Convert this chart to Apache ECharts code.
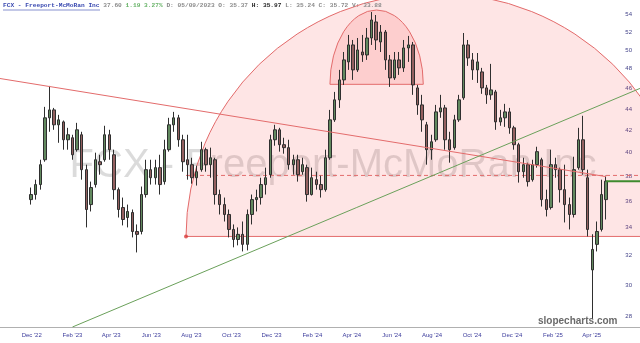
<!DOCTYPE html>
<html><head><meta charset="utf-8">
<script src="https://cdn.jsdelivr.net/npm/echarts@6/dist/echarts.min.js"></script>
<style>html,body{margin:0;padding:0;background:#fff}#c{width:640px;height:343px}</style>
</head><body><div id="c"></div>
<script>
// ---- data ----
const headerName = 'FCX - Freeport-McMoRan Inc';
const headerQuote = ['37.60', '1.19', '3.27%'];
const headerBar = ['05/09/2023', '35.37', '35.97', '35.24', '35.72', '33.88'];
const watermark = 'FCX - Freeport-McMoRan Inc';
const brand = 'slopecharts.com';

const dates = ['2022-11-30','2022-12-07','2022-12-14','2022-12-21','2022-12-28',
'2023-01-04','2023-01-11','2023-01-18','2023-01-25','2023-02-01','2023-02-08','2023-02-15','2023-02-22','2023-03-01','2023-03-08','2023-03-15','2023-03-22','2023-03-29','2023-04-05','2023-04-12','2023-04-19','2023-04-26','2023-05-03','2023-05-10','2023-05-17','2023-05-24','2023-05-31','2023-06-07','2023-06-14','2023-06-21','2023-06-28','2023-07-05','2023-07-12','2023-07-19','2023-07-26','2023-08-02','2023-08-09','2023-08-16','2023-08-23','2023-08-30','2023-09-06','2023-09-13','2023-09-20','2023-09-27','2023-10-04','2023-10-11','2023-10-18','2023-10-25','2023-11-01','2023-11-08','2023-11-15','2023-11-22','2023-11-29','2023-12-06','2023-12-13','2023-12-20','2023-12-27',
'2024-01-03','2024-01-10','2024-01-17','2024-01-24','2024-01-31','2024-02-07','2024-02-14','2024-02-21','2024-02-28','2024-03-06','2024-03-13','2024-03-20','2024-03-27','2024-04-03','2024-04-10','2024-04-17','2024-04-24','2024-05-01','2024-05-08','2024-05-15','2024-05-22','2024-05-29','2024-06-05','2024-06-12','2024-06-19','2024-06-26','2024-07-03','2024-07-10','2024-07-17','2024-07-24','2024-07-31','2024-08-07','2024-08-14','2024-08-21','2024-08-28','2024-09-04','2024-09-11','2024-09-18','2024-09-25','2024-10-02','2024-10-09','2024-10-16','2024-10-23','2024-10-30','2024-11-06','2024-11-13','2024-11-20','2024-11-27','2024-12-04','2024-12-11','2024-12-18','2024-12-25',
'2025-01-01','2025-01-08','2025-01-15','2025-01-22','2025-01-29','2025-02-05','2025-02-12','2025-02-19','2025-02-26','2025-03-05','2025-03-12','2025-03-19','2025-03-26','2025-04-02','2025-04-09','2025-04-16','2025-04-23'];

// [open, close, low, high]
const ohlc = [
[36.12,36.52,35.73,37.08],[36.52,37.32,36.12,37.72],[37.32,38.97,36.91,39.39],[39.39,43.15,39.22,44.19],[43.15,43.90,41.86,46.25],
[43.90,42.50,42.04,44.09],[42.50,42.96,40.87,43.43],[42.77,41.14,40.26,42.90],[41.14,41.59,40.26,42.22],[41.32,39.82,39.39,41.59],
[40.26,42.04,40.09,42.68],[41.59,38.55,37.72,41.86],[38.55,35.35,34.00,38.97],[35.73,37.08,35.20,37.56],[37.32,39.39,37.08,40.00],
[39.22,38.97,38.13,39.82],[39.39,41.59,39.22,42.41],[41.59,40.26,39.39,42.04],[39.82,36.91,36.12,40.26],[36.91,35.35,34.74,37.08],
[35.50,34.59,34.15,36.28],[34.74,35.20,34.00,35.73],[35.12,33.70,33.27,35.35],[33.70,33.49,32.20,34.22],[33.70,36.52,33.49,37.16],
[36.52,38.55,36.28,39.39],[38.55,37.88,37.32,39.39],[37.88,38.72,37.32,39.39],[38.72,37.32,36.52,39.82],[37.56,40.26,37.32,41.14],
[40.26,42.50,40.09,43.15],[42.50,43.15,41.86,43.71],[43.15,41.14,40.52,43.43],[41.14,39.22,38.38,41.59],[39.39,38.97,37.72,41.59],
[38.97,37.88,37.39,39.56],[37.88,38.38,37.24,38.88],[38.55,40.26,38.38,40.96],[40.26,38.97,38.38,40.44],[38.97,39.56,37.88,40.44],
[39.39,36.52,35.73,39.56],[36.52,35.73,34.97,36.91],[35.73,34.97,34.44,36.28],[34.97,33.85,33.27,35.35],[33.85,33.12,32.56,34.22],
[33.12,33.49,32.70,34.00],[33.49,32.77,32.27,34.44],[32.77,34.97,32.34,35.35],[34.97,36.12,34.22,36.52],[36.12,36.28,35.20,36.91],
[36.28,37.32,35.73,37.88],[37.32,37.88,36.52,38.72],[38.13,41.14,37.88,41.59],[41.14,42.04,40.61,42.50],[42.04,40.70,40.09,42.22],
[40.70,40.44,39.91,41.32],[40.44,38.97,38.55,41.14],[38.97,39.39,38.13,39.82],[39.39,38.13,37.56,39.82],[38.38,38.97,38.13,39.56],
[38.72,36.52,35.96,38.97],[36.52,37.88,36.44,38.72],[37.72,37.32,36.91,38.38],[37.32,36.91,36.28,38.05],[36.91,39.56,36.75,40.26],
[39.56,42.96,39.39,43.90],[42.96,44.87,42.77,45.65],[44.87,46.86,44.09,47.89],[46.86,48.94,46.35,49.79],[48.73,50.56,47.89,51.67],
[50.56,47.89,46.86,51.11],[47.89,50.01,47.68,51.33],[49.79,49.47,48.73,51.67],[49.47,51.33,48.94,52.46],[51.33,53.38,50.56,54.31],
[53.15,51.11,50.01,53.96],[50.89,52.00,49.79,52.80],[52.00,48.94,47.89,52.23],[48.94,47.06,46.15,49.47],[47.06,48.94,46.86,49.79],
[48.94,48.10,47.37,49.79],[48.10,50.23,47.68,51.11],[50.23,50.56,48.73,51.56],[50.56,46.35,45.36,50.89],[46.05,44.38,43.43,46.35],
[44.38,42.96,41.86,45.36],[42.50,40.26,38.97,42.77],[40.26,40.96,39.39,41.59],[41.14,43.71,40.96,44.38],[43.71,44.09,43.15,45.36],
[44.09,41.14,40.26,44.38],[41.14,40.26,39.14,41.86],[40.44,42.96,40.26,43.43],[42.96,44.87,42.77,45.36],[45.07,50.56,44.87,51.89],
[50.56,49.15,48.31,51.11],[48.94,47.89,46.86,49.68],[47.89,48.73,46.55,49.68],[47.68,46.05,45.46,48.10],[46.05,45.36,44.48,46.35],
[45.36,45.85,44.87,48.52],[45.65,42.77,42.04,45.85],[42.77,43.15,42.41,43.90],[43.15,43.71,42.31,44.48],[43.71,42.22,41.68,44.09],
[42.22,40.70,40.26,42.41],[40.70,38.38,37.48,40.87],[38.38,38.97,37.88,39.56],[38.97,37.56,37.16,39.14],[37.72,38.97,37.56,39.39],
[38.97,40.09,38.72,40.52],[39.39,36.12,35.58,39.56],[36.12,35.35,34.82,36.91],[35.50,38.97,35.35,40.26],[38.97,38.55,37.88,39.56],
[38.55,36.91,35.89,38.72],[36.91,35.73,34.37,38.97],[35.73,34.97,33.85,36.28],[34.97,38.55,34.74,39.65],[38.72,41.14,38.55,42.22],
[41.14,38.55,38.13,43.34],[37.88,33.85,33.34,38.55],[31.00,32.41,27.86,33.50],[32.77,33.70,32.27,34.44],[33.85,36.52,33.70,37.72],
[36.12,37.60,34.59,38.05]];

const yTicks = [28,30,32,34,36,38,40,42,44,46,48,50,52,54];
const xTicks = ['2022-12-01','2023-02-01','2023-04-01','2023-06-01','2023-08-01','2023-10-01','2023-12-01','2024-02-01','2024-04-01','2024-06-01','2024-08-01','2024-10-01','2024-12-01','2025-02-01','2025-04-01'];
const monthNames = ['Jan','Feb','Mar','Apr','May','Jun','Jul','Aug','Sep','Oct','Nov','Dec'];

const xRange = ['2022-10-13 18:00:00', '2025-06-13 12:00:00'];
const yRange = [27.38, 55.75];

// drawn annotations (in date / price)
const redTrend = [['2022-10-13 18:00:00', 47.0], ['2025-04-23', 37.97]];
const greenTrend = [['2023-02-01', 27.38], ['2025-06-13 12:00:00', 46.0]];
const dashedLevel = [['2023-07-23 18:00:00', 38.07], ['2025-06-13 12:00:00', 38.07]];
const lastPrice = [['2025-04-23', 37.60], ['2025-06-13 12:00:00', 37.60]];
// [left date, right date, base price, apex price]
const domes = [['2023-07-23 18:00:00', '2025-08-22 12:00:00', 33.34, 56.6],
               ['2024-02-27 18:00:00', '2024-07-18 18:00:00', 46.41, 54.55]];
const domeAnchor = [['2023-07-23 18:00:00', 33.34]];

// ---- chart ----
const ts = s => echarts.time.parse(s).getTime();
const chart = echarts.init(document.getElementById('c'), null, {renderer: 'canvas'});
const candleData = dates.map((d, i) => [ts(d)].concat(ohlc[i]));
const domeData = domes.map(d => [ts(d[0]), ts(d[1]), d[2], d[3]]);

chart.setOption({
  animation: false,
  backgroundColor: '#ffffff',
  title: {
    left: 3, top: 2, padding: 0,
    text: '{n|' + headerName + '} {p|' + headerQuote[0] + '} {g|' + headerQuote[1] + ' ' + headerQuote[2] + '} {p|D: ' + headerBar[0] + ' O: ' + headerBar[1] + '} {h|H: ' + headerBar[2] + '} {p|L: ' + headerBar[3] + ' C: ' + headerBar[4] + ' V: ' + headerBar[5] + '}',
    textStyle: {
      fontFamily: 'Liberation Mono', fontSize: 6.2,
      rich: {
        n: {color: '#3848b0', fontFamily: 'Liberation Mono', fontSize: 6.2},
        p: {color: '#8a8a8a', fontFamily: 'Liberation Mono', fontSize: 6.2},
        g: {color: '#66b266', fontFamily: 'Liberation Mono', fontSize: 6.2},
        h: {color: '#222222', fontFamily: 'Liberation Mono', fontSize: 6.2, fontWeight: 'bold'}
      }
    }
  },
  graphic: [
    {type: 'text', z: -10, x: 333, y: 166, style: {text: watermark, font: '40px "Liberation Sans"', fill: 'rgba(0,0,0,0.14)', align: 'center', verticalAlign: 'middle'}},
    {type: 'text', z: 100, left: 538, top: 316, style: {text: brand, font: 'bold 10px "Liberation Sans"', fill: '#6a6a6a'}},
    {type: 'line', z: 100, shape: {x1: 3, y1: 10, x2: 100, y2: 10}, style: {stroke: '#3848b0', lineWidth: 0.6}}
  ],
  grid: {left: 0, right: 0, top: 0, bottom: 16, containLabel: false, outerBoundsMode: 'none'},
  xAxis: {
    type: 'value', min: ts(xRange[0]), max: ts(xRange[1]),
    splitLine: {show: false},
    axisLine: {lineStyle: {color: '#b0b0b0'}},
    axisTick: {show: false},
    axisLabel: {
      customValues: xTicks.map(ts), fontSize: 6, color: '#3c3c9c', margin: 5,
      fontFamily: 'Liberation Sans',
      formatter: v => { const d = new Date(v); return monthNames[d.getMonth()] + " '" + String(d.getFullYear()).slice(2); }
    }
  },
  yAxis: {
    type: 'log', position: 'right', min: yRange[0], max: yRange[1],
    splitLine: {show: false}, axisLine: {show: false}, axisTick: {show: false},
    axisLabel: {inside: true, customValues: yTicks, fontSize: 6, color: '#44448a', margin: 8,
      fontFamily: 'Liberation Sans', formatter: v => String(Math.round(v))}
  },
  series: [
    {
      type: 'custom', z: 1, clip: false, silent: true,
      data: domeData,
      encode: {x: [0, 1], y: [2, 3]},
      renderItem: (params, api) => {
        const l = api.coord([api.value(0), api.value(2)]);
        const r = api.coord([api.value(1), api.value(2)]);
        const t = api.coord([api.value(0), api.value(3)]);
        const a = (r[0] - l[0]) / 2, b = l[1] - t[1];
        return {
          type: 'path',
          shape: {pathData: 'M' + l[0] + ' ' + l[1] + ' A' + a + ' ' + b + ' 0 0 1 ' + r[0] + ' ' + r[1] + ' Z'},
          style: {fill: 'rgba(245,70,70,0.14)', stroke: '#e36b6b', lineWidth: 1}
        };
      }
    },
    {type: 'line', z: 3, data: dashedLevel.map(p => [ts(p[0]), p[1]]), showSymbol: false, silent: true,
      lineStyle: {color: '#e36b6b', width: 1, type: [4, 3]}},
    {type: 'scatter', z: 3, data: domeAnchor.map(p => [ts(p[0]), p[1]]), symbolSize: 4, silent: true,
      itemStyle: {color: '#d83a3a'}},
    {
      type: 'candlestick', z: 4, silent: true,
      data: candleData, encode: {x: 0, y: [1, 2, 3, 4]},
      barWidth: 3,
      itemStyle: {color: '#62895f', color0: '#946060', borderColor: '#2f2f2f', borderColor0: '#2f2f2f', borderWidth: 1}
    },
    {type: 'line', z: 5, data: redTrend.map(p => [ts(p[0]), p[1]]), showSymbol: false, silent: true,
      lineStyle: {color: '#e36b6b', width: 1}},
    {type: 'line', z: 5, data: greenTrend.map(p => [ts(p[0]), p[1]]), showSymbol: false, silent: true,
      lineStyle: {color: '#6aa05a', width: 1}},
    {type: 'line', z: 5, data: lastPrice.map(p => [ts(p[0]), p[1]]), showSymbol: false, silent: true,
      lineStyle: {color: '#3f8a2e', width: 2}}
  ]
});
</script>
</body></html>
